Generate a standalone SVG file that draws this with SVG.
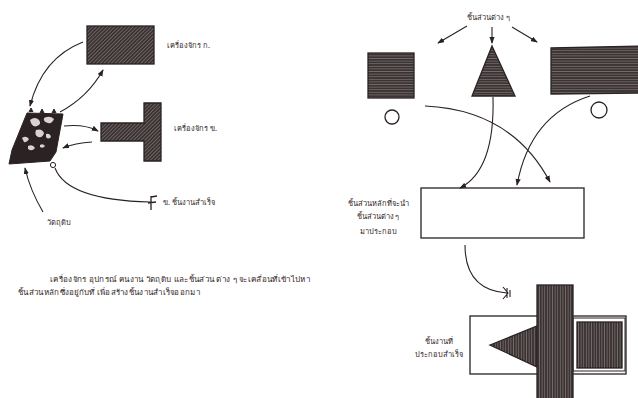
<svg xmlns="http://www.w3.org/2000/svg" width="638" height="398" viewBox="0 0 638 398">
<defs>
<pattern id="diag" width="2.6" height="2.6" patternUnits="userSpaceOnUse" patternTransform="rotate(-45)">
<rect width="2.6" height="2.6" fill="#3a3232"/><line x1="0" y1="1.3" x2="2.6" y2="1.3" stroke="#8a8280" stroke-width="0.6"/>
</pattern>
<pattern id="horiz" width="4" height="2.6" patternUnits="userSpaceOnUse">
<rect width="4" height="2.6" fill="#3a3232"/><line x1="0" y1="1.3" x2="4" y2="1.3" stroke="#948c8a" stroke-width="0.6"/>
</pattern>
<pattern id="vert" width="2.6" height="4" patternUnits="userSpaceOnUse">
<rect width="2.6" height="4" fill="#3a3232"/><line x1="1.3" y1="0" x2="1.3" y2="4" stroke="#948c8a" stroke-width="0.6"/>
</pattern>
<marker id="ah" viewBox="0 0 8 6" refX="7" refY="3" markerWidth="7" markerHeight="5.5" orient="auto" markerUnits="userSpaceOnUse">
<path d="M0,0 L8,3 L0,6 z" fill="#2a2222"/>
</marker>
</defs>
<style>
.lbl{font-family:"Noto Sans","DejaVu Sans",sans-serif;font-size:7.5px;fill:#332626}
.sh{stroke:#2a2222;stroke-width:1.3}
.ln{fill:none;stroke:#2a2222;stroke-width:1.1}
.ar{marker-end:url(#ah)}
.wb{fill:#fff;stroke:#2a2222;stroke-width:1.3}
</style>
<rect width="638" height="398" fill="#fff"/>

<g id="machine-a">
<rect class="sh" x="87" y="26" width="67" height="38" fill="url(#diag)"/>
<text class="lbl" x="167" y="48">เครื่องจักร ก.</text>
</g>
<g id="machine-b">
<path class="sh" d="M101,123 L144,123 L144,103 L161,103 L161,161 L144,161 L144,141 L101,141 Z" fill="url(#diag)"/>
<text class="lbl" x="174" y="131">เครื่องจักร ข.</text>
</g>
<g id="raw-material">
<path d="M27,113 L63,114 L56,152 L50,161 L9,164 L12,150 Z" fill="#2b2323" stroke="#2a2222"/>
<path d="M29,112 l2,-4 l2,4 M40,113 l2,-4 l2,4 M52,113 l2,-4 l2,4" fill="#2b2323" stroke="#2a2222"/>
<path d="M30,120 q5,-4 9,0 q3,4 -2,6 q-5,2 -7,-6 z M44,118 q6,-3 10,1 q-2,5 -6,4 q-5,-1 -4,-5 z M36,130 q6,-2 8,3 q-1,5 -6,4 q-4,-2 -2,-7 z M22,138 q4,-3 7,1 q-2,4 -5,3 z M46,134 q4,-1 5,3 q-3,3 -5,0 z M28,146 q5,-2 7,2 q-3,4 -7,1 z M40,145 q3,-2 5,1 q-2,3 -5,1 z" fill="#d9d2d2"/>
<circle cx="53" cy="165" r="2.6" fill="#fff" stroke="#2a2222" stroke-width="1"/>
<text class="lbl" x="47" y="225">วัตถุดิบ</text>
</g>
<g id="finished-a">
<path d="M151,196 L151,210 M151,197 L157,196 M148,203 L156,202" fill="none" stroke="#2a2222" stroke-width="1.3"/>
<text class="lbl" x="163" y="205">ข. ชิ้นงานสำเร็จ</text>
</g>
<g id="caption">
<text class="lbl" x="50" y="282" textLength="260" lengthAdjust="spacingAndGlyphs">เครื่องจักร อุปกรณ์ คนงาน วัตถุดิบ และชิ้นส่วน ต่าง ๆ จะเคลื่อนที่เข้าไปหา</text>
<text class="lbl" x="18" y="295" textLength="182" lengthAdjust="spacingAndGlyphs">ชิ้นส่วนหลักซึ่งอยู่กับที่ เพื่อสร้างชิ้นงานสำเร็จออกมา</text>
</g>

<g id="parts-label">
<text class="lbl" x="467" y="20">ชิ้นส่วนต่าง ๆ</text>
</g>
<g id="part-square">
<rect class="sh" x="368" y="53" width="46" height="45" fill="url(#horiz)"/>
<circle cx="392" cy="117" r="7" fill="#fff" stroke="#2a2222" stroke-width="1.3"/>
</g>
<g id="part-triangle">
<path class="sh" d="M492,46 L515,96 L472,96 Z" fill="url(#horiz)"/>
</g>
<g id="part-rect">
<path class="sh" d="M551,48 L640,46 L640,93 L551,94 Z" fill="url(#horiz)"/>
<circle cx="599" cy="110" r="8" fill="#fff" stroke="#2a2222" stroke-width="1.3"/>
</g>
<g id="main-part">
<rect class="wb" x="421" y="188" width="163" height="50"/>
<text class="lbl" x="378" y="206" text-anchor="middle">ชิ้นส่วนหลักที่จะนำ</text>
<text class="lbl" x="378" y="219" text-anchor="middle">ชิ้นส่วนต่าง ๆ</text>
<text class="lbl" x="378" y="234" text-anchor="middle">มาประกอบ</text>
</g>
<g id="assembled">
<rect class="wb" x="470" y="316" width="156" height="58"/>
<rect x="573" y="318" width="52" height="53" fill="#fff" stroke="#2a2222" stroke-width="1"/>
<rect class="sh" x="577" y="322" width="45" height="46" fill="url(#vert)"/>
<path class="sh" d="M490,345 L537,326 L537,367 Z" fill="url(#vert)"/>
<rect class="sh" x="537" y="285" width="36" height="115" fill="url(#vert)"/>
<text class="lbl" x="439" y="344" text-anchor="middle">ชิ้นงานที่</text>
<text class="lbl" x="439" y="357" text-anchor="middle">ประกอบสำเร็จ</text>
</g>

<g id="connectors">
<path class="ln ar" d="M83,42 Q42,58 30,106"/>
<path class="ln ar" d="M60,112 Q88,97 103,70"/>
<path class="ln ar" d="M64,126 Q85,124 98,131"/>
<path class="ln ar" d="M92,142 Q75,143 63,148"/>
<path class="ln ar" d="M43,212 Q30,190 25,168"/>
<path class="ln" d="M55,168 Q67,200 150,202"/>
<path class="ln ar" d="M467,26 L438,43"/>
<path class="ln ar" d="M492,27 L492,43"/>
<path class="ln ar" d="M512,27 L537,42"/>
<path class="ln ar" d="M425,106 Q512,110 550,182"/>
<path class="ln ar" d="M493,97 Q495,170 460,188"/>
<path class="ln ar" d="M590,96 Q530,115 517,185"/>
<path class="ln" d="M465,245 Q465,290 507,293"/>
<path d="M503,287 L508,293 L503,299 M507,288 L507,298 M510,290 L510,297" fill="none" stroke="#2a2222" stroke-width="1.1"/>
</g>
</svg>
